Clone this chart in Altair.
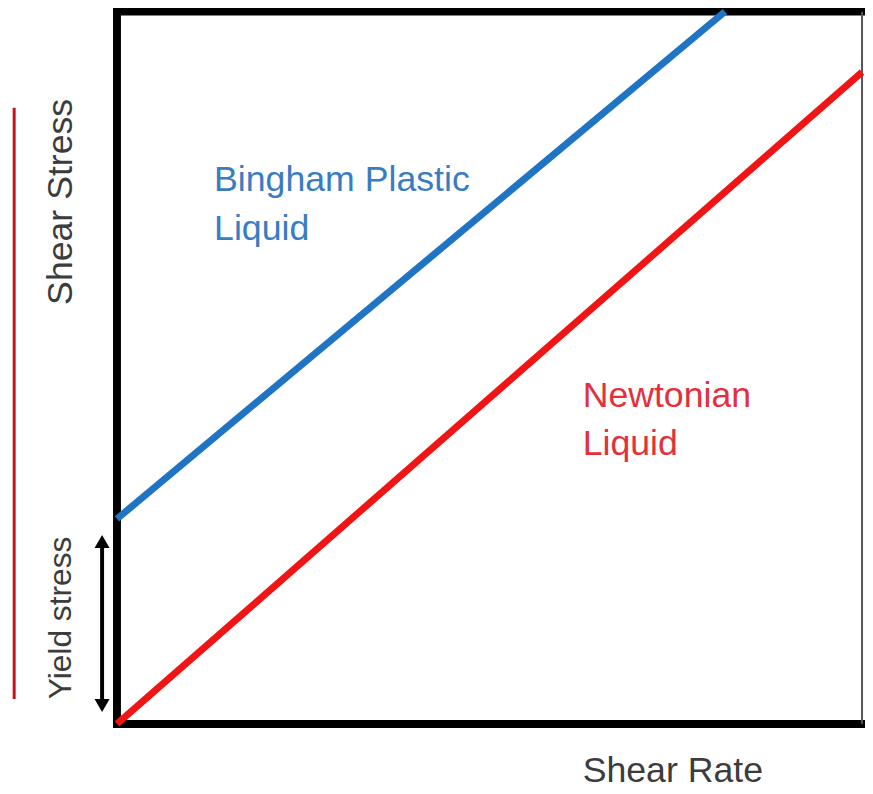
import altair as alt
import pandas as pd

# Series (data units: shear rate 0-100, shear stress 0-100)
newtonian_rate = [0, 100]
newtonian_stress = [0, 91.5]
bingham_rate = [0, 81.6]
bingham_stress = [28.8, 100]

# frame of the plot (domain extents)
frame_x = [0, 0, 0]
frame_x2 = [100, 0, 100]
frame_y = [100, 0, 0]
frame_y2 = [100, 100, 0]

# yield-stress arrow and left red marker
arrow_x = [-2.0]
arrow_top = [25.6]
arrow_bottom = [2.6]
marker_x = [-13.8]
marker_top = [86.5]
marker_bottom = [3.5]

FONT = "Liberation Sans"
W, H = 752, 719

xs = alt.Scale(domain=[0, 100], nice=False, zero=False)
ys = alt.Scale(domain=[0, 100], nice=False, zero=False)

lines_df = pd.DataFrame({
    "rate": newtonian_rate + bingham_rate,
    "stress": newtonian_stress + bingham_stress,
    "fluid": ["Newtonian"] * 2 + ["Bingham"] * 2,
})

frame_df = pd.DataFrame({"x": frame_x, "x2": frame_x2, "y": frame_y, "y2": frame_y2})

frame = alt.Chart(frame_df).mark_rule(color="black", strokeWidth=8, strokeCap="square").encode(
    x=alt.X("x:Q", scale=xs, axis=None),
    x2="x2:Q",
    y=alt.Y("y:Q", scale=ys, axis=None),
    y2="y2:Q",
)

right_edge = alt.Chart(pd.DataFrame({"x": [100], "y": [0], "y2": [100]})).mark_rule(
    color="#555555", strokeWidth=2
).encode(x=alt.X("x:Q", scale=xs, axis=None), y=alt.Y("y:Q", scale=ys, axis=None), y2="y2:Q")

lines = alt.Chart(lines_df).mark_line(strokeWidth=7, strokeCap="butt").encode(
    x=alt.X("rate:Q", scale=xs, axis=None),
    y=alt.Y("stress:Q", scale=ys, axis=None),
    detail="fluid:N",
    color=alt.Color("fluid:N", scale=alt.Scale(domain=["Newtonian", "Bingham"],
                                               range=["#f01414", "#1f74c4"]), legend=None),
)

arrow_df = pd.DataFrame({"x": arrow_x, "top": arrow_top, "bottom": arrow_bottom})
arrow_shaft = alt.Chart(arrow_df).mark_rule(color="black", strokeWidth=4).encode(
    x=alt.X("x:Q", scale=xs, axis=None),
    y=alt.Y("top:Q", scale=ys, axis=None),
    y2="bottom:Q",
)
arrow_up = alt.Chart(arrow_df).mark_point(shape="triangle-up", filled=True, color="black",
                                          size=230, opacity=1).encode(
    x=alt.X("x:Q", scale=xs, axis=None), y=alt.Y("top:Q", scale=ys, axis=None))
arrow_down = alt.Chart(arrow_df).mark_point(shape="triangle-down", filled=True, color="black",
                                            size=230, opacity=1).encode(
    x=alt.X("x:Q", scale=xs, axis=None), y=alt.Y("bottom:Q", scale=ys, axis=None))

marker = alt.Chart(pd.DataFrame({"x": marker_x, "top": marker_top, "bottom": marker_bottom})).mark_rule(
    color="#c8101a", strokeWidth=3
).encode(x=alt.X("x:Q", scale=xs, axis=None), y=alt.Y("top:Q", scale=ys, axis=None), y2="bottom:Q")

one = pd.DataFrame({"a": [0]})


def label(text, x, y, color, size, angle=0, align="left"):
    return alt.Chart(one).mark_text(
        text=text, font=FONT, fontSize=size, color=color, align=align,
        baseline="alphabetic", angle=angle,
    ).encode(x=alt.value(x), y=alt.value(y))


texts = [
    label("Bingham Plastic", 98, 181, "#3a7cc2", 36),
    label("Liquid", 98, 230, "#3a7cc2", 36),
    label("Newtonian", 470, 399, "#e2303c", 36),
    label("Liquid", 470, 448, "#e2303c", 36),
    label("Shear Rate", 470, 778, "#3c3c3c", 36),
    label("Shear Stress", -45, 192, "#3c3c3c", 36, angle=270, align="center"),
    label("Yield stress", -46, 612, "#3c3c3c", 32, angle=270, align="center"),
]

chart = alt.layer(frame, right_edge, marker, arrow_shaft, arrow_up, arrow_down, lines, *texts).properties(
    width=W, height=H,
    autosize=alt.AutoSizeParams(type="none"),
    padding={"left": 110, "top": 0, "right": 3, "bottom": 66},
).configure_view(stroke=None)

chart.save("out.html", embed_options={"renderer": "svg", "actions": False})
